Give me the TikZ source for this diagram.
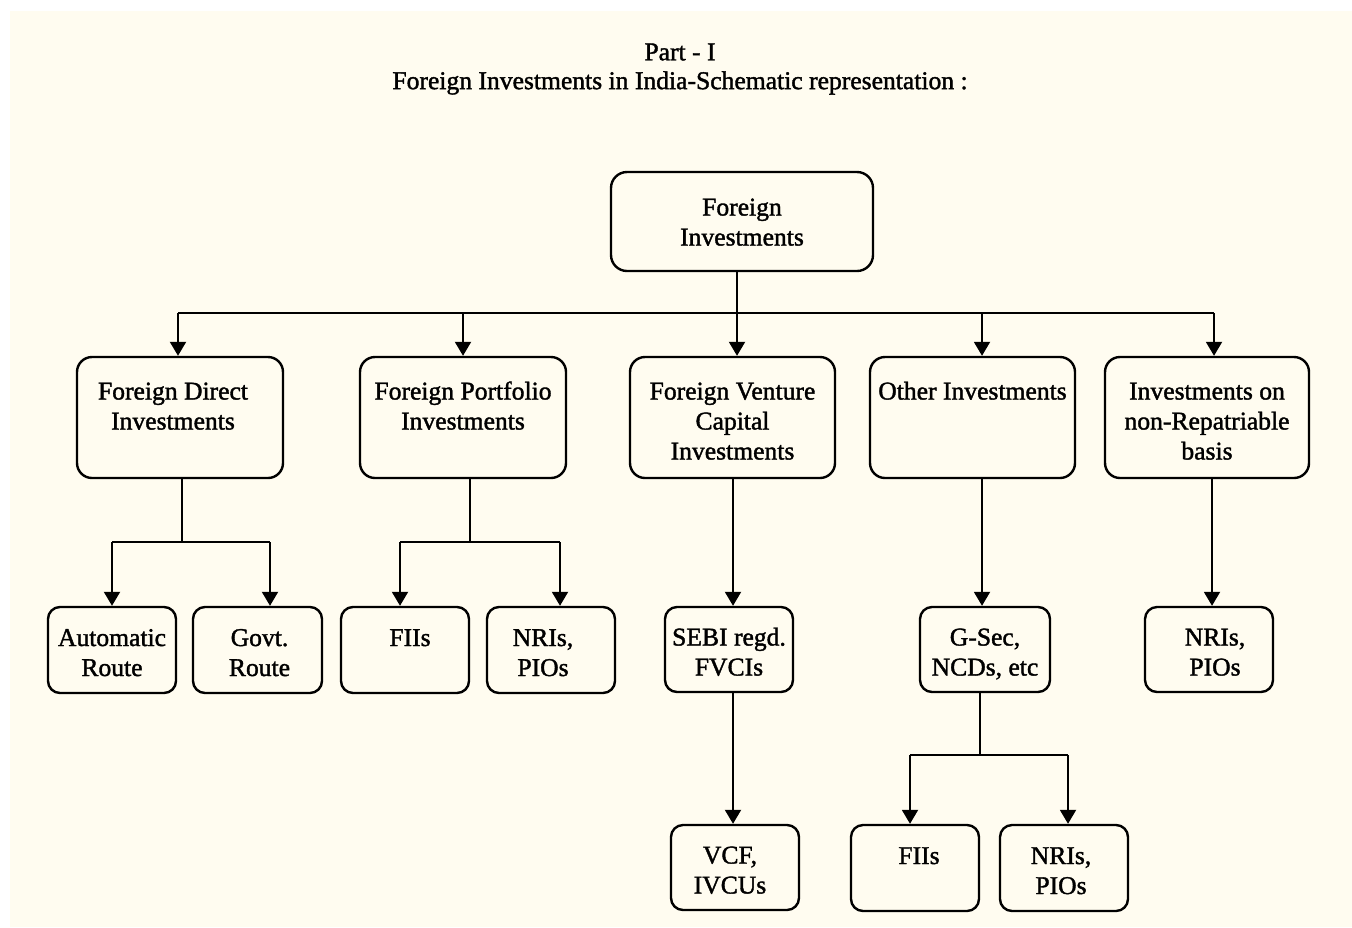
\documentclass[tikz,border=0pt]{standalone}
\usepackage{fontspec}
\setmainfont{Liberation Serif}[FakeBold=1.5]
\usetikzlibrary{arrows.meta}
\definecolor{cream}{HTML}{FFFCF0}
\newcommand\boxtext[2][0pt]{\hspace*{#1}\begin{tabular}[t]{@{}c@{}}#2\end{tabular}\hspace*{-#1}}
\begin{document}
\begin{tikzpicture}[x=0.5pt,y=-0.5pt,
  font=\fontsize{12.8}{15}\selectfont,
  bigbox/.style={draw, line width=1.2pt, rounded corners=7.5pt, inner sep=0pt, minimum width=103pt, minimum height=60.5pt, text height=9pt, text depth=27pt},
  topbox/.style={draw, line width=1.2pt, rounded corners=8pt, inner sep=0pt, minimum width=131pt, minimum height=49.5pt, text height=9pt, text depth=15pt},
  smallbox/.style={draw, line width=1.2pt, rounded corners=6pt, inner sep=0pt, minimum width=64pt, minimum height=43pt, text height=9pt, text depth=13pt},
  conn/.style={line width=1pt},
  arr/.style={line width=1pt, -{Triangle[width=8pt,length=7pt]}}]
\useasboundingbox (0,0) rectangle (1352,927);
\fill[white] (0,0) rectangle (1352,927);
\fill[cream] (10,11) rectangle (1352,927);
% titles
\node (t1) at (680,52) {Part - I};
\node (t2) at (680,83) {Foreign Investments in India-Schematic representation :};
% top
\node[topbox] (top) at (742,221.5) {\boxtext{Foreign\\Investments}};
% level 2
\node[bigbox] (fdi) at (180,417.5) {\boxtext[-3.5pt]{Foreign Direct\\Investments}};
\node[bigbox] (fpi) at (463,417.5) {\boxtext{Foreign Portfolio\\Investments}};
\node[bigbox, minimum width=102.5pt] (fvci) at (732.5,417.5) {\boxtext{Foreign Venture\\Capital\\Investments}};
\node[bigbox, minimum width=102.5pt] (oth) at (972.5,417.5) {\boxtext{Other Investments}};
\node[bigbox, minimum width=102pt] (nrb) at (1207,417.5) {\boxtext{Investments on\\non-Repatriable\\basis}};
% level 3
\node[smallbox] (auto) at (112,650) {\boxtext{Automatic\\Route}};
\node[smallbox, minimum width=64.5pt] (govt) at (257.5,650) {\boxtext[1pt]{Govt.\\Route}};
\node[smallbox] (fii1) at (405,650) {\boxtext[2.5pt]{FIIs}};
\node[smallbox] (nri1) at (551,650) {\boxtext[-4pt]{NRIs,\\PIOs}};
\node[smallbox, minimum height=42.5pt] (sebi) at (729,649.5) {\boxtext{SEBI regd.\\FVCIs}};
\node[smallbox, minimum width=65pt, minimum height=42.5pt] (gsec) at (985,649.5) {\boxtext{G-Sec,\\NCDs, etc}};
\node[smallbox, minimum height=42.5pt] (nri3) at (1209,649.5) {\boxtext[3pt]{NRIs,\\PIOs}};
% level 4
\node[smallbox, minimum height=42.5pt] (vcf) at (735,867.5) {\boxtext[-2.5pt]{VCF,\\IVCUs}};
\node[smallbox] (fii2) at (915,868) {\boxtext[2pt]{FIIs}};
\node[smallbox] (nri2) at (1064,868) {\boxtext[-1.5pt]{NRIs,\\PIOs}};
% bus
\coordinate (b1) at (178,313);
\coordinate (b2) at (463,313);
\coordinate (b3) at (737,313);
\coordinate (b4) at (982,313);
\coordinate (b5) at (1214,313);
\draw[conn] (b3 |- top.south) -- (b3);
\draw[conn] (b1) -- (b5);
\draw[arr] (b1) -- (b1 |- fdi.north);
\draw[arr] (b2) -- (b2 |- fpi.north);
\draw[arr] (b3) -- (b3 |- fvci.north);
\draw[arr] (b4) -- (b4 |- oth.north);
\draw[arr] (b5) -- (b5 |- nrb.north);
% FDI children
\coordinate (j1) at (182,542);
\coordinate (a1) at (112,542);
\coordinate (a2) at (270,542);
\draw[conn] (j1 |- fdi.south) -- (j1);
\draw[conn] (a1) -- (a2);
\draw[arr] (a1) -- (a1 |- auto.north);
\draw[arr] (a2) -- (a2 |- govt.north);
% FPI children
\coordinate (j2) at (470,542);
\coordinate (c1) at (400,542);
\coordinate (c2) at (560,542);
\draw[conn] (j2 |- fpi.south) -- (j2);
\draw[conn] (c1) -- (c2);
\draw[arr] (c1) -- (c1 |- fii1.north);
\draw[arr] (c2) -- (c2 |- nri1.north);
% FVCI chain
\coordinate (v1) at (733,0);
\draw[arr] (v1 |- fvci.south) -- (v1 |- sebi.north);
\draw[arr] (v1 |- sebi.south) -- (v1 |- vcf.north);
% Other chain
\coordinate (o1) at (982,0);
\draw[arr] (o1 |- oth.south) -- (o1 |- gsec.north);
\coordinate (j3) at (980,755);
\coordinate (d1) at (910,755);
\coordinate (d2) at (1068,755);
\draw[conn] (j3 |- gsec.south) -- (j3);
\draw[conn] (d1) -- (d2);
\draw[arr] (d1) -- (d1 |- fii2.north);
\draw[arr] (d2) -- (d2 |- nri2.north);
% non-rep
\coordinate (n1) at (1212,0);
\draw[arr] (n1 |- nrb.south) -- (n1 |- nri3.north);
\end{tikzpicture}
\end{document}
